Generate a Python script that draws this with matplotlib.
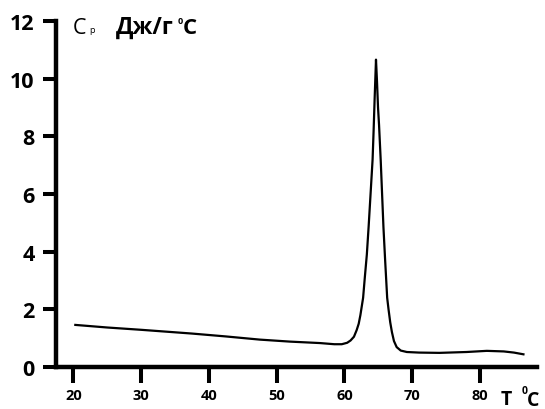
import numpy as np
from matplotlib import pyplot as plt

plt.rcParams['font.family'] = ['Open Sans', 'DejaVu Sans']

# температура, °C
T = [20.3, 25, 30, 37.5, 42.5, 47.5, 52, 56.4, 58.5, 59.6, 60.4, 60.9, 61.4,
     61.8, 62.1, 62.35, 62.55, 62.75, 63.0, 63.3, 63.57, 63.9, 64.15, 64.3,
     64.45, 64.65, 64.8, 64.95, 65.1, 65.35, 65.55, 65.75, 66.0, 66.3, 66.5,
     66.75, 67.0, 67.3, 67.7, 68.3, 69.2, 71, 74, 78, 81, 83.5, 85, 86.4]
# теплоёмкость, Дж/г°C
Cp = [1.46, 1.37, 1.29, 1.16, 1.06, 0.95, 0.88, 0.83, 0.79, 0.79, 0.84, 0.92,
      1.05, 1.28, 1.5, 1.8, 2.1, 2.4, 3.1, 3.9, 4.89, 6.2, 7.2, 8.2, 9.3,
      10.66, 9.9, 9.0, 8.4, 7.15, 6.0, 4.85, 3.7, 2.4, 2.0, 1.55, 1.21, 0.9,
      0.69, 0.57, 0.52, 0.5, 0.49, 0.52, 0.56, 0.54, 0.5, 0.44]

x_ticks = [20, 30, 40, 50, 60, 70, 80]
y_ticks = [0, 2, 4, 6, 8, 10, 12]

W, H = 545, 410
fig = plt.figure(figsize=(W / 100, H / 100), dpi=100)
ax = fig.add_axes([56 / W, 42 / H, (537 - 56) / W, (368 - 22) / H])

ax.plot(T, Cp, color='black', linewidth=1.6)

ax.set_xlim(17.45, 88.4)
ax.set_ylim(0, 12)

for s in ['top', 'right']:
    ax.spines[s].set_visible(False)
for s in ['left', 'bottom']:
    ax.spines[s].set_linewidth(3.2)

ax.set_xticks(x_ticks)
ax.set_yticks(y_ticks)
ax.set_yticks(np.arange(1, 12, 2), minor=True)
ax.tick_params(axis='x', length=11.5, width=2.9, pad=3.5, labelsize=10.5)
ax.tick_params(axis='y', length=9.4, width=2.9, pad=6, labelsize=15.5)
ax.tick_params(axis='y', which='minor', length=1.2, width=1.2)
for lab in ax.get_xticklabels() + ax.get_yticklabels():
    lab.set_fontweight('bold')


def px(x, y):
    return x / W, 1 - y / H


# подпись оси y
fig.text(*px(73, 34), 'C', fontsize=15.5, ha='left', va='baseline')
fig.text(*px(89.5, 33), 'p', fontsize=6.5, ha='left', va='baseline')
fig.text(*px(116, 33.5), 'Дж/г', fontsize=16.5, fontweight='bold',
         ha='left', va='baseline')
fig.text(*px(177.5, 24), '0', fontsize=6.5, fontweight='bold',
         ha='left', va='baseline')
fig.text(*px(183, 33.5), 'С', fontsize=16, fontweight='bold',
         ha='left', va='baseline')

# подпись оси x
fig.text(*px(501, 405.5), 'T', fontsize=14, fontweight='bold',
         ha='left', va='baseline')
fig.text(*px(522, 394), '0', fontsize=7.5, fontweight='bold',
         ha='left', va='baseline')
fig.text(*px(527, 406), 'C', fontsize=14, fontweight='bold',
         ha='left', va='baseline')

plt.savefig('out.png', dpi=100)
